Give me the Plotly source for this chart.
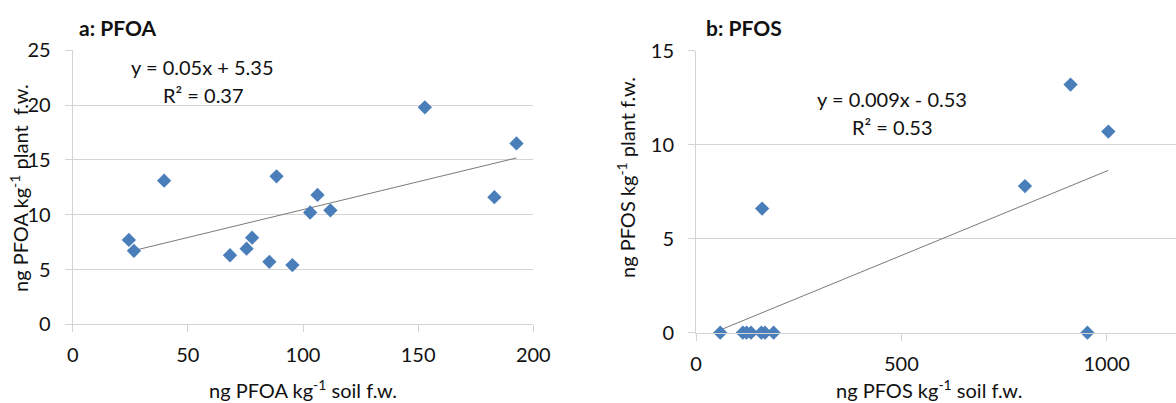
import numpy as np
import plotly.graph_objects as go

W, H = 1176, 403

# ---- data ----
pfoa_soil = [24.4, 26.6, 39.7, 68.3, 75.5, 77.9, 85.4, 88.5, 95.4, 103.1, 106.3, 111.9, 152.9, 183.1, 192.7]
pfoa_plant = [7.7, 6.7, 13.1, 6.3, 6.9, 7.9, 5.7, 13.5, 5.4, 10.2, 11.8, 10.4, 19.8, 11.6, 16.5]

pfos_soil = [59, 114, 123, 134, 159, 161, 168, 189, 801, 912, 953, 1004]
pfos_plant = [0, 0, 0, 0, 0, 6.6, 0, 0, 7.8, 13.2, 0, 10.7]

pfoa_eq = ["y = 0.05x + 5.35", "R² = 0.37"]
pfos_eq = ["y = 0.009x - 0.53", "R² = 0.53"]

FONT = "Lato, 'Noto Sans', sans-serif"
MARK = "#4a7ebb"
GRID = "#d4d4d4"


def trend(xs, ys):
    k, b = np.polyfit(xs, ys, 1)
    x0, x1 = min(xs), max(xs)
    return [x0, x1], [k * x0 + b, k * x1 + b]


def px(x):
    return x / W


def py(y):
    return 1 - y / H


fig = go.Figure()

tx, ty = trend(pfoa_soil, pfoa_plant)
fig.add_trace(go.Scatter(x=tx, y=ty, mode="lines", line=dict(color="#7a7a7a", width=1),
                         xaxis="x", yaxis="y", cliponaxis=False, showlegend=False))
fig.add_trace(go.Scatter(x=pfoa_soil, y=pfoa_plant, mode="markers",
                         marker=dict(symbol="diamond", size=11, color=MARK),
                         xaxis="x", yaxis="y", cliponaxis=False, showlegend=False))

tx2, ty2 = trend(pfos_soil, pfos_plant)
fig.add_trace(go.Scatter(x=tx2, y=ty2, mode="lines", line=dict(color="#7a7a7a", width=1),
                         xaxis="x2", yaxis="y2", cliponaxis=False, showlegend=False))
fig.add_trace(go.Scatter(x=pfos_soil, y=pfos_plant, mode="markers",
                         marker=dict(symbol="diamond", size=11, color=MARK),
                         xaxis="x2", yaxis="y2", cliponaxis=False, showlegend=False))

axfont = dict(family=FONT, size=20, color="#111")
common_x = dict(showgrid=False, zeroline=False, showline=True, linecolor=GRID, linewidth=1,
                ticks="outside", ticklen=7, tickcolor=GRID, tickfont=axfont,
                ticklabelstandoff=6, automargin=False)
common_y = dict(showgrid=True, gridcolor=GRID, gridwidth=1, zeroline=False, showline=True,
                linecolor=GRID, linewidth=1, ticks="outside", ticklen=7, tickcolor=GRID,
                tickfont=axfont, ticklabelstandoff=10, automargin=False)

fig.update_layout(
    width=W, height=H,
    margin=dict(l=0, r=0, t=0, b=0, autoexpand=False),
    paper_bgcolor="white", plot_bgcolor="white",
    font=dict(family=FONT, color="#111"),
    hovermode=False,
    xaxis=dict(domain=[px(72.7), px(533.3)], range=[0, 200], dtick=50, anchor="y", **common_x),
    yaxis=dict(domain=[py(324.3), py(50.3)], range=[0, 25], dtick=5, anchor="x", **common_y),
    xaxis2=dict(domain=[px(696), 1.0], range=[0, (W - 696) / 0.4107], tickvals=[0, 500, 1000],
                anchor="y2", **common_x),
    yaxis2=dict(domain=[py(332.7), py(50.7)], range=[0, 15], dtick=5, anchor="x2", **common_y),
)

ann = []


def note(text, x, y, size=20, bold=False, angle=0, xanchor="center"):
    ann.append(dict(text=f"<b>{text}</b>" if bold else text, x=px(x), y=py(y),
                    xref="paper", yref="paper", showarrow=False, textangle=angle,
                    xanchor=xanchor, yanchor="middle",
                    font=dict(family=FONT, size=size, color="#111")))


note("a: PFOA", 77, 28, size=21, bold=True, xanchor="left")
note("b: PFOS", 704, 28, size=21, bold=True, xanchor="left")
note(pfoa_eq[0], 202, 67)
note(pfoa_eq[1], 203, 95)
note(pfos_eq[0], 892, 99)
note(pfos_eq[1], 892, 127)
note("ng PFOA kg<sup>-1</sup> soil f.w.", 303, 389)
note("ng PFOS kg<sup>-1</sup> soil f.w.", 929, 389)
note("ng PFOA kg<sup>-1</sup> plant\u00a0 f.w.", 19, 188, angle=-90)
note("ng PFOS kg<sup>-1</sup> plant f.w.", 626, 178, angle=-90)

fig.update_layout(annotations=ann)
fig.write_html(
    "out.html",
    config={"displayModeBar": False, "staticPlot": True},
    post_script="document.body.style.margin='0';document.body.style.overflow='hidden';",
)
